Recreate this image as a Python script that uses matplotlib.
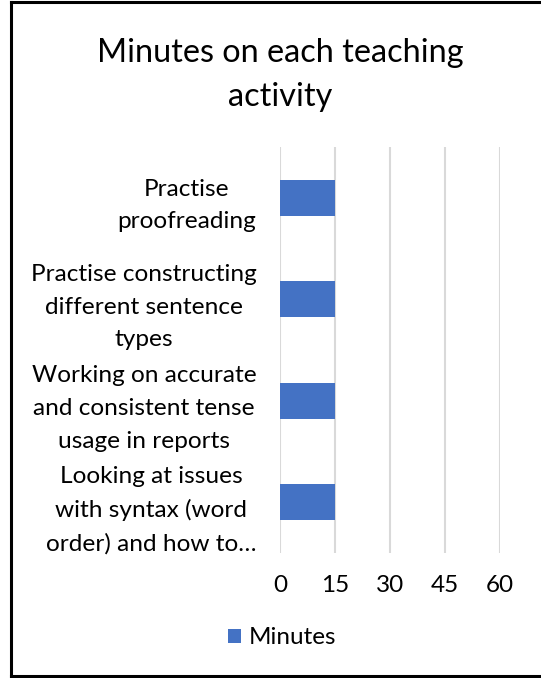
import matplotlib.pyplot as plt
from matplotlib.lines import Line2D
from matplotlib.patches import Patch

# data
categories = [
    'Practise\nproofreading',
    'Practise constructing\ndifferent sentence\ntypes',
    'Working on accurate\nand consistent tense\nusage in reports',
    'Looking at issues\nwith syntax (word\norder) and how to…',
]
minutes = [15, 15, 15, 15]
x_ticks = [0, 15, 30, 45, 60]

BAR = '#4472C4'
GRID = '#D9D9D9'
FONT = ['Lato', 'DejaVu Sans']

plt.rcParams['font.family'] = FONT

W, H = 541, 678
fig = plt.figure(figsize=(W / 100, H / 100), dpi=100)

ax = fig.add_axes([280 / W, 1 - 553 / H, 220 / W, 406 / H])
ypos = list(range(len(categories)))
ax.barh(ypos, minutes, height=0.355, color=BAR, zorder=3)
ax.set_xlim(0, 60)
ax.set_ylim(len(categories) - 0.5, -0.5)
ax.set_xticks(x_ticks)
ax.set_xticklabels([str(t) for t in x_ticks], fontsize=17.5)
ax.set_yticks(ypos)
ax.set_yticklabels(categories, fontsize=17.6, multialignment='center',
                   linespacing=1.68)
ax.tick_params(axis='both', length=0)
ax.tick_params(axis='x', pad=16)
ax.tick_params(axis='y', pad=17)
ax.grid(axis='x', color=GRID, linewidth=1.5, zorder=0)
for s in ax.spines.values():
    s.set_visible(False)

fig.text(280 / W, 1 - 75 / H, 'Minutes on each teaching\nactivity',
         ha='center', va='center', fontsize=23.3, linespacing=1.6)

fig.legend(handles=[Patch(facecolor=BAR, label='Minutes')],
           loc='center', bbox_to_anchor=(282 / W, 1 - 638 / H),
           frameon=False, fontsize=17.5, handlelength=0.55, handleheight=0.55,
           handletextpad=0.3)

# chart border (left, top, bottom visible in the reference)
fig.add_artist(Line2D([11 / W, 11 / W], [2 / H, 1 - 1.5 / H], color='black',
                      linewidth=2.2, transform=fig.transFigure))
fig.add_artist(Line2D([11 / W, 1], [1 - 1.5 / H, 1 - 1.5 / H], color='black',
                      linewidth=2.2, transform=fig.transFigure))
fig.add_artist(Line2D([11 / W, 1], [2 / H, 2 / H], color='black',
                      linewidth=2.2, transform=fig.transFigure))

fig.savefig('out.png', dpi=100)
